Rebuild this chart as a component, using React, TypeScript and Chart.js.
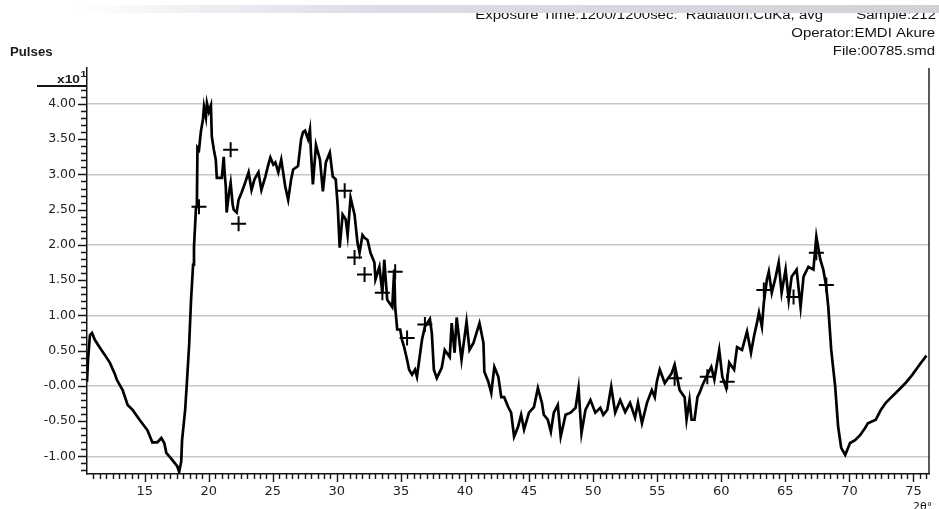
import React, { useEffect, useRef } from "react";
import { Chart, registerables } from "chart.js";

Chart.register(...registerables);

// 2θ angle (degrees) and pulses (x10^1)
const ANGLE = [
  10.5, 10.58, 10.73, 10.89, 11.12, 11.51, 11.89, 12.28, 12.67, 12.82, 13.28, 13.67, 14.06, 14.6, 15.22, 15.6, 15.99, 16.3,
  16.53, 16.69, 17.15, 17.54, 17.69, 17.85, 17.92, 18.16, 18.31, 18.47, 18.62, 18.78, 18.85, 19.01, 19.08, 19.12, 19.24,
  19.39, 19.55, 19.63, 19.78, 19.86, 20.01, 20.17, 20.24, 20.4, 20.55, 20.63, 21.02, 21.17, 21.25, 21.33, 21.4, 21.56,
  21.71, 21.87, 21.95, 22.18, 22.33, 22.56, 22.8, 23.11, 23.34, 23.57, 23.88, 24.11, 24.42, 24.65, 24.81, 25.04, 25.2,
  25.43, 25.66, 25.97, 26.2, 26.43, 26.59, 26.97, 27.21, 27.36, 27.52, 27.75, 27.9, 27.98, 28.13, 28.37, 28.68, 28.91,
  29.14, 29.45, 29.68, 29.91, 30.07, 30.22, 30.45, 30.69, 30.84, 31.07, 31.38, 31.61, 31.77, 32.0, 32.16, 32.39, 32.62,
  32.93, 33.01, 33.32, 33.55, 33.7, 33.93, 34.32, 34.48, 34.55, 34.71, 34.94, 35.09, 35.25, 35.48, 35.64, 35.87, 36.1,
  36.25, 36.64, 36.87, 37.26, 37.41, 37.57, 37.8, 38.19, 38.42, 38.81, 38.96, 39.19, 39.35, 39.73, 40.12, 40.35, 40.66,
  41.13, 41.44, 41.51, 41.82, 42.05, 42.29, 42.6, 42.83, 43.06, 43.37, 43.6, 43.83, 44.14, 44.38, 44.61, 44.99, 45.38,
  45.69, 46.0, 46.15, 46.46, 46.7, 46.93, 47.24, 47.47, 47.85, 48.24, 48.63, 48.86, 49.09, 49.4, 49.79, 50.17, 50.56,
  50.79, 51.1, 51.41, 51.72, 52.11, 52.5, 52.88, 53.27, 53.5, 53.81, 54.2, 54.58, 54.81, 54.97, 55.2, 55.59, 56.13,
  56.36, 56.75, 57.14, 57.29, 57.52, 57.68, 57.91, 58.14, 58.3, 58.53, 58.84, 59.22, 59.46, 59.84, 60.08, 60.38, 60.62,
  61.0, 61.23, 61.62, 62.01, 62.32, 62.55, 62.78, 62.94, 63.17, 63.32, 63.56, 63.71, 63.94, 64.25, 64.48, 64.71, 65.02,
  65.26, 65.49, 65.88, 66.19, 66.42, 66.8, 67.19, 67.42, 67.73, 67.96, 68.19, 68.35, 68.58, 68.89, 69.12, 69.36, 69.67,
  70.05, 70.44, 70.83, 71.21, 71.44, 72.06, 72.45, 72.84, 73.22, 73.61, 74.0, 74.38, 74.92, 75.47, 76.01,
];
const PULSES = [
  0.06, 0.37, 0.72, 0.75, 0.65, 0.54, 0.44, 0.33, 0.17, 0.09, -0.06, -0.27, -0.34, -0.48, -0.63, -0.8, -0.8, -0.74,
  -0.81, -0.95, -1.05, -1.14, -1.22, -1.08, -0.77, -0.34, 0.09, 0.58, 1.22, 1.72, 1.97, 2.54, 2.64, 3.38, 3.35,
  3.61, 3.78, 3.96, 3.81, 4.01, 3.89, 3.98, 3.54, 3.35, 3.21, 2.95, 2.95, 3.25, 3.0, 2.83, 2.46, 2.71,
  2.88, 2.57, 2.5, 2.46, 2.64, 2.74, 2.86, 3.03, 2.78, 2.93, 3.03, 2.78, 2.97, 3.14, 3.24, 3.14, 3.17,
  3.03, 3.21, 2.83, 2.64, 2.93, 3.07, 3.12, 3.5, 3.6, 3.62, 3.5, 3.64, 3.31, 2.86, 3.42, 3.21, 2.76,
  3.17, 3.31, 2.97, 2.93, 2.54, 1.96, 2.43, 2.36, 2.14, 2.67, 2.43, 2.03, 1.89, 2.14, 2.1, 2.07, 1.89,
  1.75, 1.51, 1.69, 1.32, 1.79, 1.22, 1.12, 1.65, 1.12, 0.8, 0.8, 0.65, 0.55, 0.37, 0.23, 0.16, 0.23,
  0.13, 0.65, 0.84, 0.95, 0.75, 0.23, 0.11, 0.26, 0.51, 0.41, 0.89, 0.47, 0.97, 0.37, 0.91, 0.51, 0.61,
  0.89, 0.61, 0.2, 0.06, -0.1, 0.27, 0.13, -0.16, -0.16, -0.3, -0.38, -0.72, -0.58, -0.41, -0.62, -0.38, -0.3,
  -0.03, -0.24, -0.41, -0.48, -0.65, -0.38, -0.27, -0.72, -0.41, -0.38, -0.31, -0.03, -0.67, -0.34, -0.2, -0.38, -0.31,
  -0.41, -0.34, -0.01, -0.38, -0.2, -0.37, -0.24, -0.45, -0.24, -0.53, -0.24, -0.06, -0.16, 0.06, 0.23, 0.04, 0.18,
  0.3, -0.06, -0.16, -0.48, -0.2, -0.48, -0.48, -0.16, -0.1, 0.01, 0.13, 0.27, 0.09, 0.51, 0.13, -0.03, 0.33,
  0.23, 0.55, 0.51, 0.77, 0.47, 0.7, 0.89, 1.04, 0.84, 1.18, 1.51, 1.62, 1.32, 1.55, 1.75, 1.32, 1.65,
  1.22, 1.55, 1.65, 1.12, 1.55, 1.69, 1.65, 2.12, 1.79, 1.65, 1.41, 1.12, 0.51, -0.01, -0.58, -0.88, -0.98,
  -0.81, -0.77, -0.7, -0.6, -0.53, -0.48, -0.34, -0.24, -0.17, -0.1, -0.03, 0.04, 0.16, 0.3, 0.43,
];

// "+" peak markers
const MARK_ANGLE = [19.24, 21.71, 22.33, 30.61, 31.38, 32.16, 33.55, 34.55, 35.48, 36.87, 56.36, 58.91, 60.46, 63.32, 65.64, 67.42, 68.2];
const MARK_PULSES = [2.54, 3.35, 2.3, 2.77, 1.82, 1.58, 1.32, 1.62, 0.68, 0.87, 0.11, 0.13, 0.06, 1.36, 1.26, 1.89, 1.43];

const X_LABELS = [15, 20, 25, 30, 35, 40, 45, 50, 55, 60, 65, 70, 75];
const Y_LABELS = [-1, -0.5, 0, 0.5, 1, 1.5, 2, 2.5, 3, 3.5, 4];
const X_MINOR_STEP = 0.5;
const Y_MINOR_STEP = 0.1;

const HEADER_LINES = [
  "Exposure Time:1200/1200sec:  Radiation:CuKa, avg        Sample:212",
  "Operator:EMDI Akure",
  "File:00785.smd",
];
const Y_TITLE = "Pulses";
const Y_MULT = "x10";
const Y_MULT_EXP = "1";
const X_TITLE = "2θ°";

const FONT = '"DejaVu Sans", "Liberation Sans", Arial, sans-serif';
const TFONT = '"Liberation Sans", Arial, sans-serif';

function stretchText(ctx: CanvasRenderingContext2D, text: string, x: number, y: number, align: "left" | "right", sx: number) {
  ctx.save();
  ctx.translate(x, y);
  ctx.scale(sx, 1);
  ctx.textAlign = align;
  ctx.fillText(text, 0, 0);
  ctx.restore();
}

const decorPlugin = {
  id: "decor",
  afterDraw(chart: any) {
    const { ctx, chartArea: ca, scales } = chart;
    const xs = scales.x;
    const ys = scales.y;
    ctx.save();
    ctx.strokeStyle = "#151515";
    ctx.lineWidth = 1.4;
    ctx.beginPath();
    // right border
    ctx.moveTo(ca.right - 0.5, ca.top);
    ctx.lineTo(ca.right - 0.5, ca.bottom);
    // y tick marks
    for (let i = 0; ; i++) {
      const v = Math.round((-1.2 + i * Y_MINOR_STEP) * 10) / 10;
      if (v > 4.21) break;
      const py = Math.round(ys.getPixelForValue(v)) + 0.5;
      const major = Y_LABELS.some((l) => Math.abs(l - v) < 1e-6);
      const len = major ? 9 : 6;
      ctx.moveTo(ca.left - len, py);
      ctx.lineTo(ca.left, py);
    }
    // x tick marks
    for (let i = 0; ; i++) {
      const v = 11 + i * X_MINOR_STEP;
      if (v > 76.01) break;
      const px = Math.round(xs.getPixelForValue(v)) + 0.5;
      const major = X_LABELS.some((l) => Math.abs(l - v) < 1e-6);
      const len = major ? 8 : 5;
      ctx.moveTo(px, ca.bottom);
      ctx.lineTo(px, ca.bottom + len);
    }
    ctx.stroke();

    // multiplier underline
    ctx.lineWidth = 2;
    ctx.beginPath();
    ctx.moveTo(37, 86);
    ctx.lineTo(ca.left, 86);
    ctx.stroke();

    ctx.fillStyle = "#1a1a1a";
    ctx.textBaseline = "alphabetic";
    ctx.font = `bold 11px ${TFONT}`;
    stretchText(ctx, Y_MULT, 80, 83, "right", 1.25);
    ctx.font = `bold 9px ${TFONT}`;
    stretchText(ctx, Y_MULT_EXP, 80.5, 77, "left", 1.2);

    ctx.font = `bold 12px ${TFONT}`;
    stretchText(ctx, Y_TITLE, 10, 56, "left", 1.1);

    ctx.fillStyle = "#111";
    ctx.font = `13px ${TFONT}`;
    stretchText(ctx, HEADER_LINES[0], 936, 19, "right", 1.15);
    stretchText(ctx, HEADER_LINES[1], 935, 37, "right", 1.15);
    stretchText(ctx, HEADER_LINES[2], 935, 55, "right", 1.15);

    ctx.textBaseline = "top";
    ctx.font = `11px ${FONT}`;
    stretchText(ctx, X_TITLE, 913, 502, "left", 1.0);
    ctx.restore();
  },
};

export default function App() {
  const canvasRef = useRef<HTMLCanvasElement | null>(null);

  useEffect(() => {
    document.body.style.margin = "0";
    const canvas = canvasRef.current;
    if (!canvas) return;
    const line = ANGLE.map((x, i) => ({ x, y: PULSES[i] }));
    const marks = MARK_ANGLE.map((x, i) => ({ x, y: MARK_PULSES[i] }));
    const chart = new Chart(canvas, {
      type: "scatter",
      data: {
        datasets: [
          {
            data: line,
            showLine: true,
            borderColor: "#000",
            borderWidth: 2.7,
            pointRadius: 0,
            tension: 0,
            borderJoinStyle: "miter",
          } as any,
          {
            data: marks,
            showLine: false,
            pointStyle: "cross",
            pointRadius: 7.5,
            borderColor: "#000",
            backgroundColor: "#000",
            borderWidth: 2,
          } as any,
        ],
      },
      options: {
        responsive: false,
        animation: false,
        events: [],
        layout: { padding: { top: 68, right: 2, left: 0, bottom: 0 } },
        plugins: { legend: { display: false }, tooltip: { enabled: false } },
        scales: {
          x: {
            type: "linear",
            min: 10.5,
            max: 76.25,
            afterBuildTicks: (s: any) => {
              s.ticks = X_LABELS.map((v) => ({ value: v }));
            },
            afterFit: (s: any) => {
              s.height = 35;
            },
            ticks: {
              autoSkip: false,
              maxRotation: 0,
              padding: 10,
              color: "#222",
              font: { family: FONT, size: 13 },
              callback: (v: any) => String(v),
            },
            grid: { display: false, drawTicks: false },
            border: { color: "#151515", width: 1.5 },
          },
          y: {
            type: "linear",
            min: -1.25,
            max: 4.51,
            afterBuildTicks: (s: any) => {
              s.ticks = Y_LABELS.map((v) => ({ value: v }));
            },
            afterFit: (s: any) => {
              s.width = 87;
            },
            ticks: {
              autoSkip: false,
              padding: 11,
              color: "#222",
              font: { family: FONT, size: 12.5 },
              callback: (v: any) => (Math.abs(v) < 1e-9 ? "-0.00" : Number(v).toFixed(2)),
            },
            grid: {
              drawTicks: false,
              lineWidth: 1.6,
              color: (c: any) =>
                c.tick && Number.isInteger(Math.round(c.tick.value * 1000) / 1000) ? "#c6c6c6" : "rgba(0,0,0,0)",
            },
            border: { color: "#151515", width: 1.5 },
          },
        },
      } as any,
      plugins: [decorPlugin],
    });
    return () => chart.destroy();
  }, []);

  return (
    <div style={{ position: "relative", width: 939, height: 509, background: "#fff", overflow: "hidden" }}>
      <canvas ref={canvasRef} width={939} height={509} style={{ display: "block" }} />
      <div
        style={{
          position: "absolute",
          left: 0,
          top: 5,
          width: 939,
          height: 8,
          background:
            "linear-gradient(to right, #ffffff 0%, #ffffff 8%, #eeeef2 22%, #dcdce8 40%, #dadae4 55%, #d6d6dc 75%, #d2d2d6 100%)",
        }}
      />
    </div>
  );
}
